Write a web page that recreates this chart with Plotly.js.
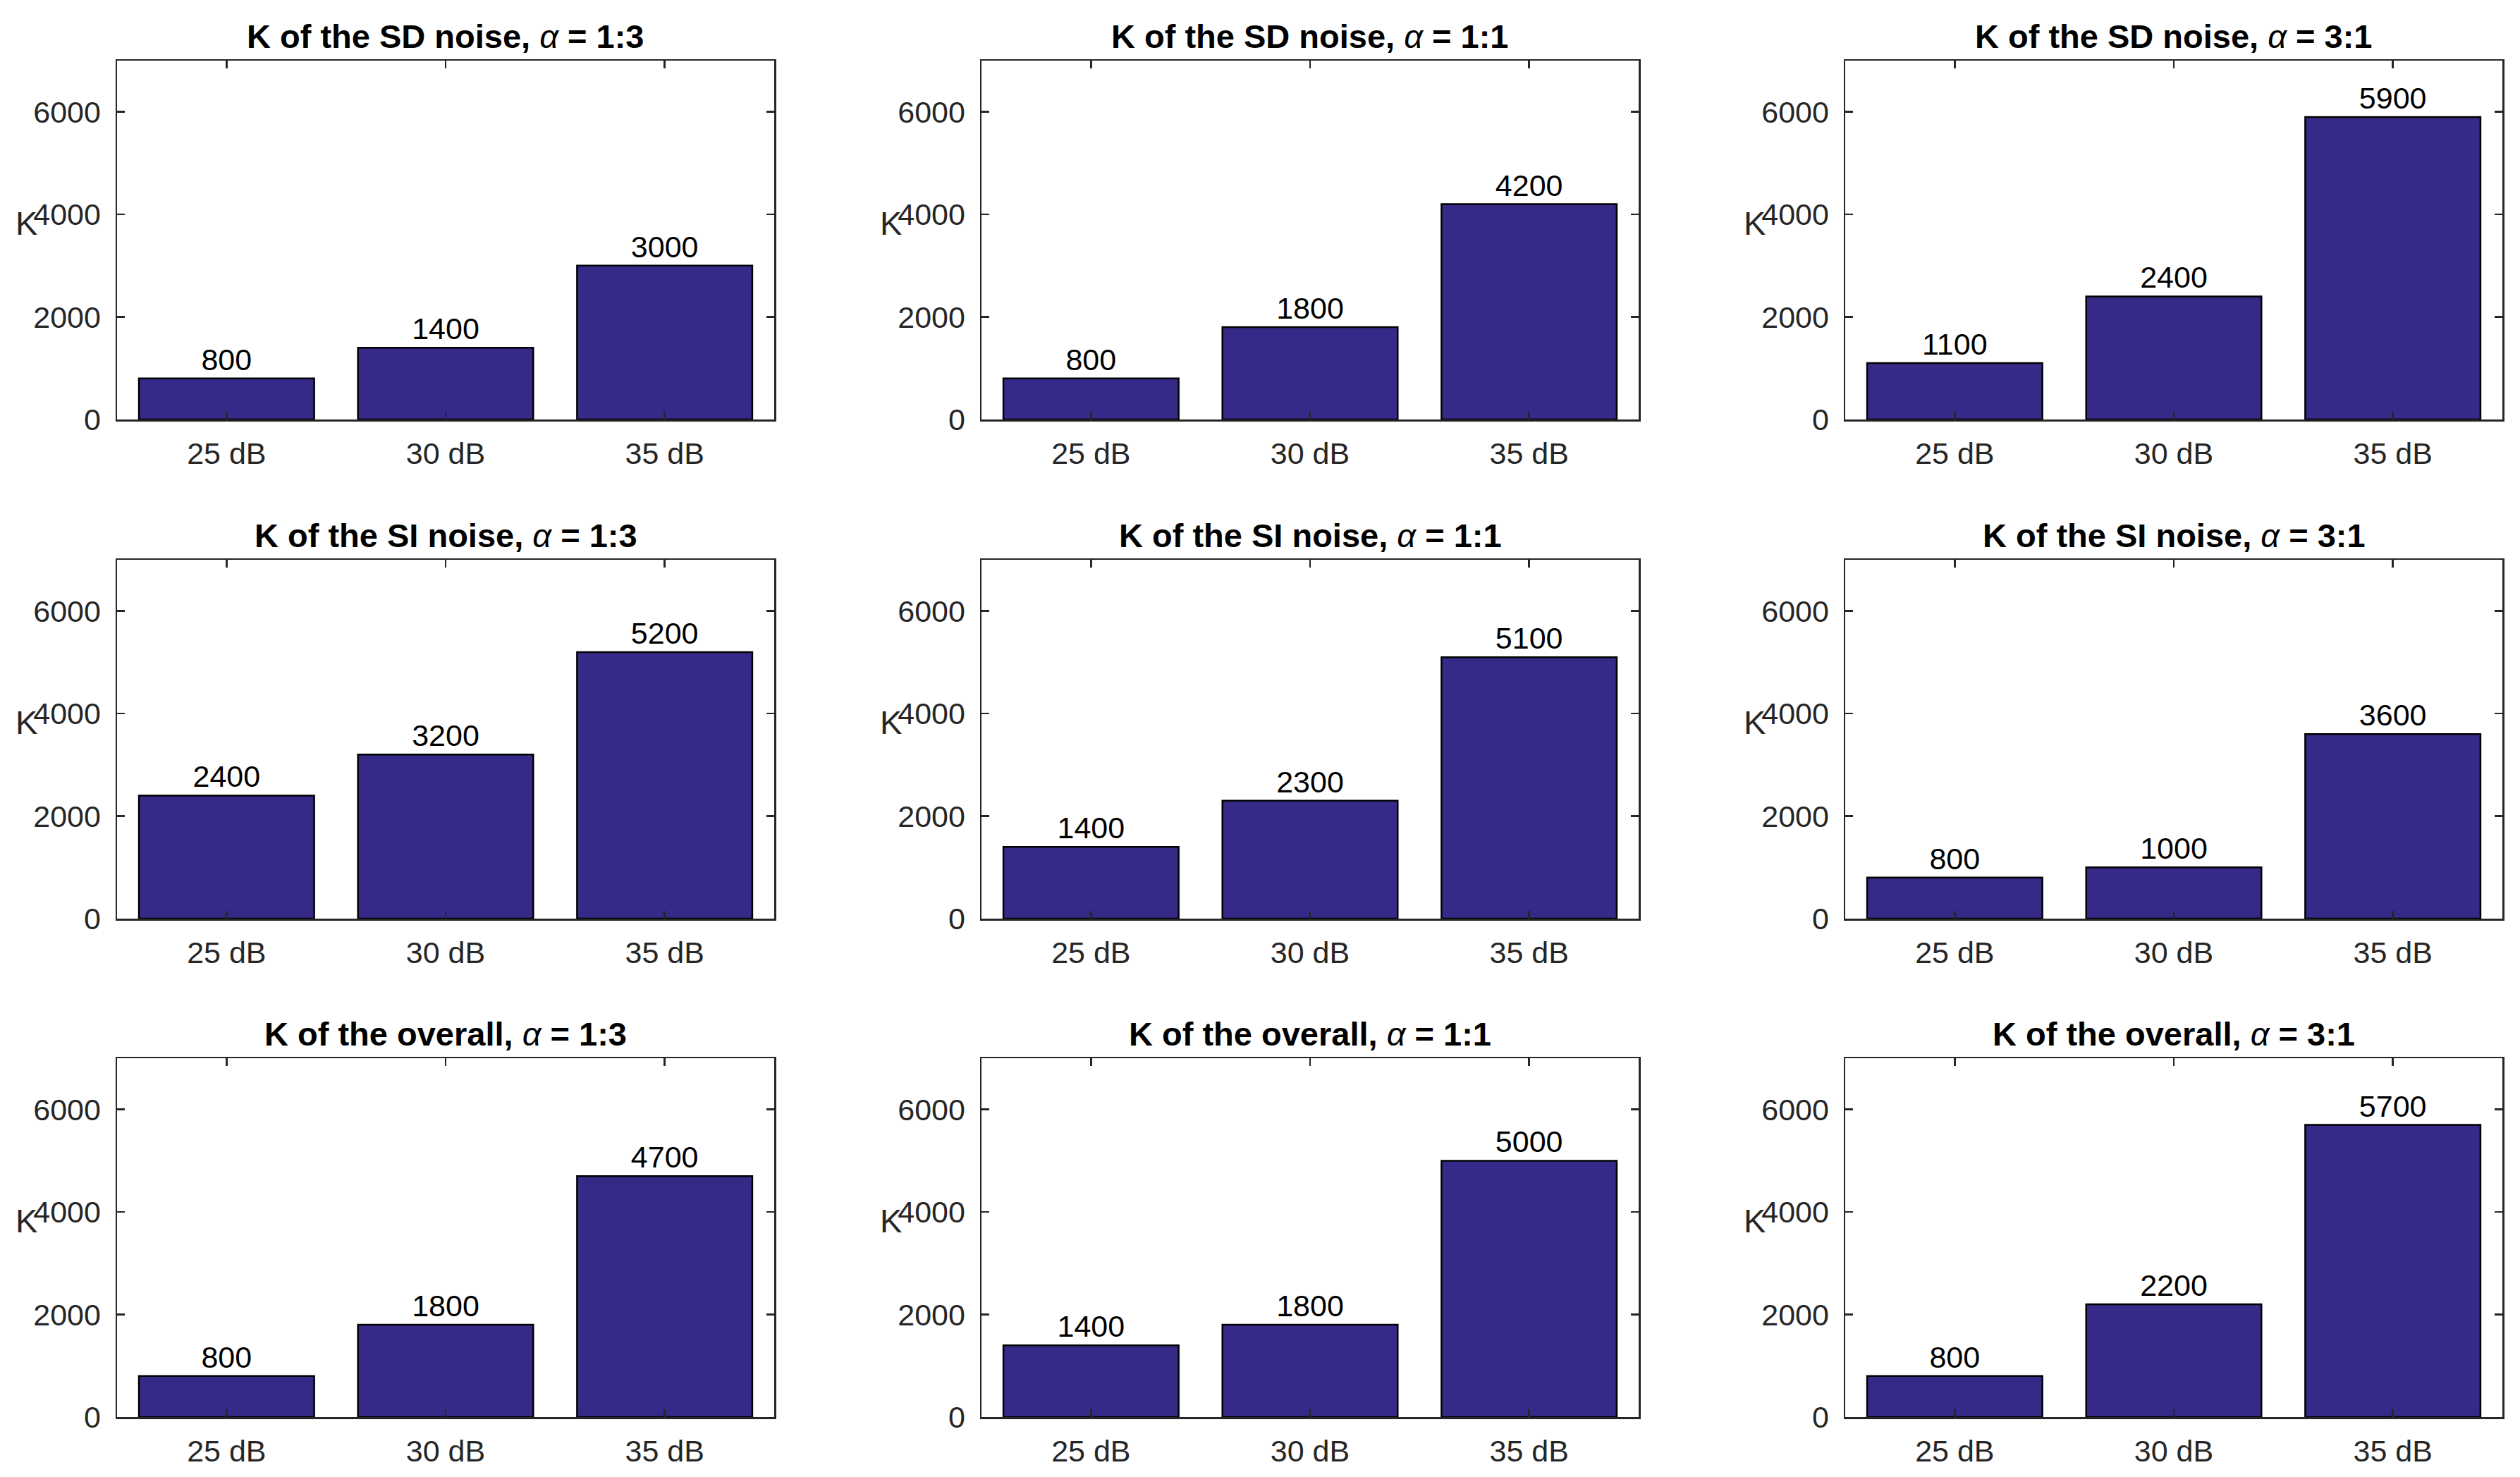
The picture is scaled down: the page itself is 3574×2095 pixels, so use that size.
<!DOCTYPE html>
<html>
<head>
<meta charset="utf-8">
<script src="https://cdn.plot.ly/plotly-3.0.1.min.js"></script>
<style>
  html, body { margin: 0; padding: 0; background: #fff; }
  #chart { width: 3574px; height: 2095px; }
</style>
</head>
<body>
<div id="chart"></div>
<script>
// categories and labels
var categories = ['25 dB', '30 dB', '35 dB'];
var rowNames = ['SD noise', 'SI noise', 'overall'];
var ratios = ['1:3', '1:1', '3:1'];

// K values, one array per panel
var sdNoise13 = [800, 1400, 3000];
var sdNoise11 = [800, 1800, 4200];
var sdNoise31 = [1100, 2400, 5900];
var siNoise13 = [2400, 3200, 5200];
var siNoise11 = [1400, 2300, 5100];
var siNoise31 = [800, 1000, 3600];
var overall13 = [800, 1800, 4700];
var overall11 = [1400, 1800, 5000];
var overall31 = [800, 2200, 5700];

var panels = [
  [sdNoise13, sdNoise11, sdNoise31],
  [siNoise13, siNoise11, siNoise31],
  [overall13, overall11, overall31]
];

var W = 3574, H = 2095;
var colLeft = [166, 1392, 2617];
var rowTop = [86, 794, 1501];
var axW = 932, axH = 509;

var font = 'Liberation Sans, Arial, Helvetica, sans-serif';
var axColor = '#262626';

var data = [];
var layout = {
  width: W,
  height: H,
  margin: {l: 0, r: 0, t: 0, b: 0},
  paper_bgcolor: '#ffffff',
  plot_bgcolor: '#ffffff',
  showlegend: false,
  font: {family: font, size: 42, color: axColor},
  annotations: []
};

for (var r = 0; r < 3; r++) {
  for (var c = 0; c < 3; c++) {
    var n = r * 3 + c + 1;
    var xa = n === 1 ? 'x' : 'x' + n;
    var ya = n === 1 ? 'y' : 'y' + n;
    var xkey = n === 1 ? 'xaxis' : 'xaxis' + n;
    var ykey = n === 1 ? 'yaxis' : 'yaxis' + n;

    data.push({
      type: 'bar',
      x: categories,
      y: panels[r][c],
      xaxis: xa,
      yaxis: ya,
      width: 0.8,
      marker: {color: '#352A87', line: {color: '#000000', width: 2.5}},
      text: panels[r][c].map(String),
      textposition: 'outside',
      textfont: {family: font, size: 43, color: '#000000'},
      cliponaxis: false,
      hoverinfo: 'skip'
    });

    layout[xkey] = {
      domain: [colLeft[c] / W, (colLeft[c] + axW) / W],
      anchor: ya,
      type: 'category',
      categoryorder: 'array',
      categoryarray: categories,
      range: [-0.5, 2.5],
      showline: true,
      linecolor: axColor,
      linewidth: 2.5,
      mirror: 'ticks',
      ticks: 'inside',
      ticklen: 11,
      tickwidth: 2.5,
      tickcolor: axColor,
      ticklabelstandoff: 9,
      showgrid: false,
      zeroline: false,
      tickfont: {family: font, size: 43, color: axColor},
      fixedrange: true
    };
    layout[ykey] = {
      domain: [1 - (rowTop[r] + axH) / H, 1 - rowTop[r] / H],
      anchor: xa,
      range: [0, 7000],
      tickvals: [0, 2000, 4000, 6000],
      tickformat: 'd',
      showline: true,
      linecolor: axColor,
      linewidth: 2.5,
      mirror: 'ticks',
      ticks: 'inside',
      ticklen: 11,
      tickwidth: 2.5,
      tickcolor: axColor,
      ticklabelstandoff: 12,
      showgrid: false,
      zeroline: false,
      tickfont: {family: font, size: 43, color: axColor},
      fixedrange: true
    };

    // panel title
    layout.annotations.push({
      xref: xa + ' domain', yref: ya + ' domain',
      x: 0.5, y: 1, xanchor: 'center', yanchor: 'bottom', yshift: 6,
      showarrow: false,
      text: '<b>K of the ' + rowNames[r] + ', </b><i>α</i><b> = ' + ratios[c] + '</b>',
      font: {family: font, size: 47, color: '#000000'}
    });
    // horizontal y label "K"
    layout.annotations.push({
      xref: xa + ' domain', yref: ya,
      x: 0, y: 4000, xanchor: 'center', yanchor: 'middle',
      xshift: -129, yshift: -12,
      showarrow: false,
      text: 'K',
      font: {family: font, size: 47, color: axColor}
    });
  }
}

Plotly.newPlot('chart', data, layout, {staticPlot: true, displayModeBar: false});
</script>
</body>
</html>
